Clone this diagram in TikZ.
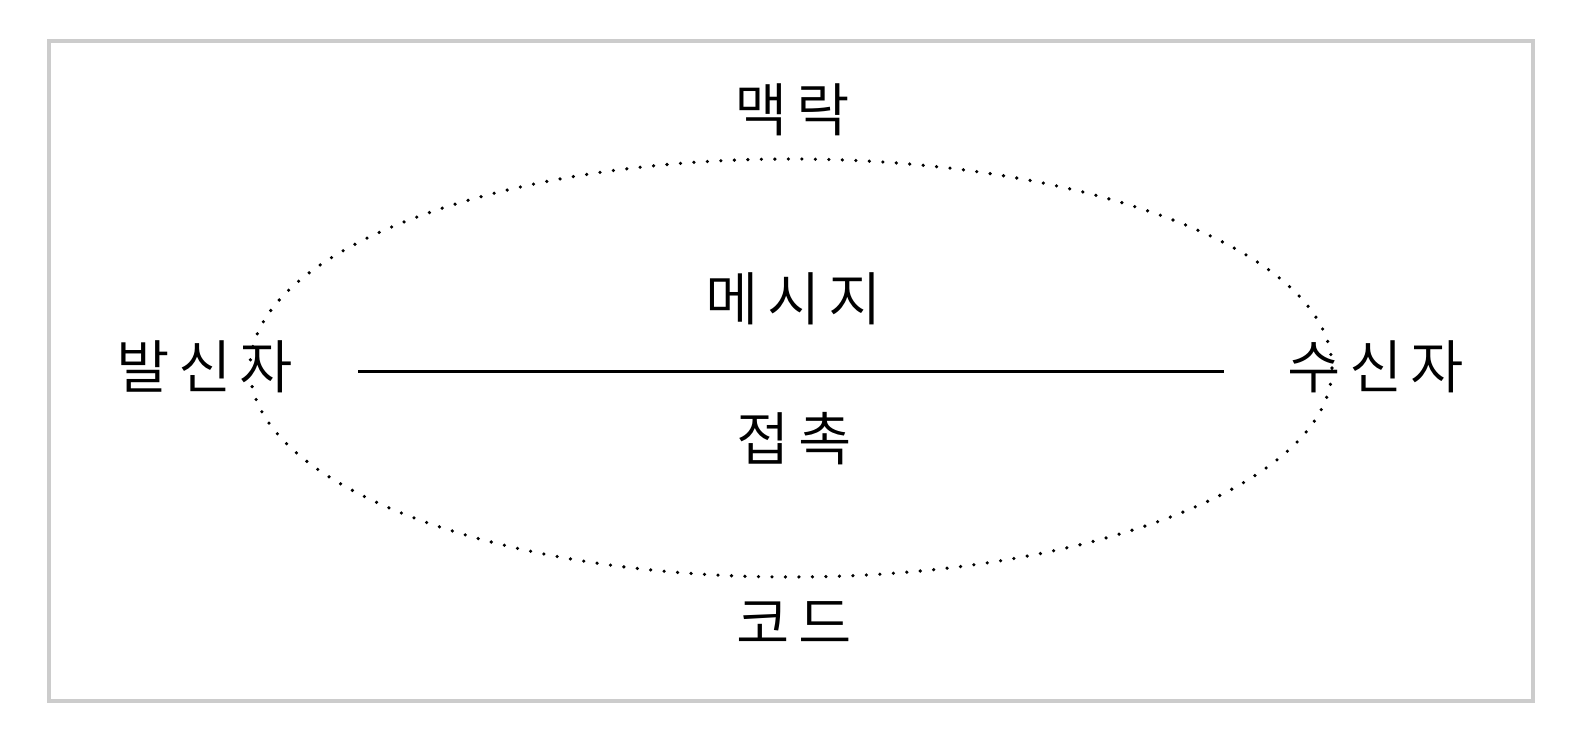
\documentclass[tikz,border=0pt]{standalone}
\usepackage{fontspec}
\newfontfamily\kr{Noto Sans CJK KR DemiLight}[LetterSpace=14]
\definecolor{framegray}{HTML}{CCCCCC}
\begin{document}
\begin{tikzpicture}[x=0.5pt,y=0.5pt,
  lbl/.style={font=\kr\fontsize{29pt}{34pt}\selectfont, inner sep=0pt, anchor=base},
  frame/.style={draw=framegray, line width=2pt},
  dotline/.style={draw=black, line width=1.8pt, line cap=round, dash pattern=on 0pt off 6.75pt},
  msgline/.style={draw=black, line width=1.5pt}]
\useasboundingbox (0,0) rectangle (1582,740);
\draw[frame] (49,39) rectangle (1533,699);
\draw[dotline] (791,372) ellipse [x radius=270.5pt, y radius=104.5pt];
\coordinate (lineL) at (358,368.5);
\coordinate (lineR) at (1224,368.5);
\draw[msgline] (lineL) -- (lineR);
\node[lbl] (context) at (792,608) {맥락};
\node[lbl] (message) at (794,420) {메시지};
\node[lbl] (contact) at (794,280) {접촉};
\node[lbl] (code) at (794,96) {코드};
\node[lbl] (sender) at (205,351.5) {발신자};
\node[lbl] (receiver) at (1376,351.5) {수신자};
\end{tikzpicture}
\end{document}
